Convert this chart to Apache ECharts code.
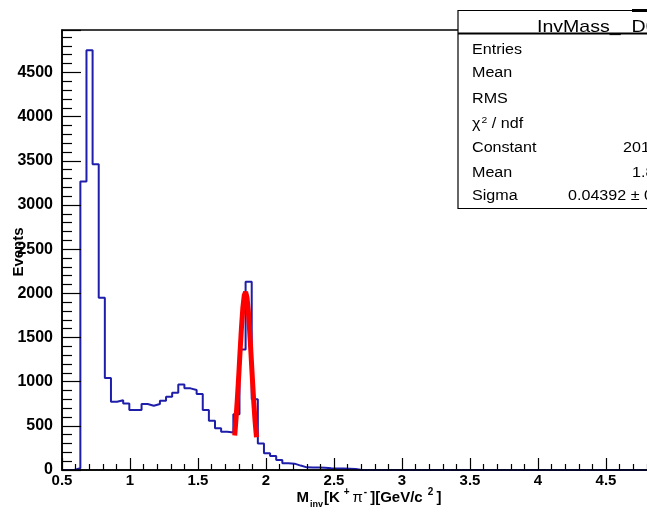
<!DOCTYPE html>
<html>
<head>
<meta charset="utf-8">
<title>InvMass_D0</title>
<script src="https://cdn.jsdelivr.net/npm/echarts@6/dist/echarts.min.js"></script>
<style>
	html, body { margin: 0; padding: 0; background: #fff; overflow: hidden; }
	#main { width: 647px; height: 517px; }
</style>
</head>
<body>
<div id="main"></div>
<script>
(function() {
	// histogram binning: 100 bins from 0.5 to 5.0
	var binLow = 0.5;
	var binWidth = 0.045;
	var binCounts = [
		0, 0, 20, 3265, 4750, 3460, 1950, 1040, 773, 790,
		754, 679, 679, 747, 727, 747, 784, 829, 875, 969,
		924, 905, 860, 679, 558, 472, 433, 425, 630, 1365,
		2130, 800, 301, 189, 158, 113, 75, 72, 50, 30,
		28, 28, 25, 20, 18, 16, 14, 12, 0, 0,
		0, 0, 0, 0, 0, 0, 0, 0, 0, 0,
		0, 0, 0, 0, 0, 0, 0, 0, 0, 0,
		0, 0, 0, 0, 0, 0, 0, 0, 0, 0,
		0, 0, 0, 0, 0, 0, 0, 0, 0, 0,
		0, 0, 0, 0, 0, 0, 0, 0, 0, 0
	];

	// gaussian fit curve
	var fitX = [1.77, 1.78, 1.79, 1.80, 1.81, 1.82, 1.83, 1.84, 1.85, 1.86, 1.87, 1.88, 1.89, 1.90, 1.91, 1.92, 1.93];
	var fitY = [390, 590, 820, 1080, 1360, 1620, 1840, 1975, 2015, 1955, 1800, 1570, 1305, 1030, 770, 545, 370];

	// axes
	var xMin = 0.5, xMax = 5, xStep = 0.5;
	var yMin = 0, yMax = 4980, yStep = 500;

	// stats box
	var statTitle = 'InvMass_  D0';
	var statNames = ['Entries', 'Mean', 'RMS', '{n|χ}{s|2}{n| / ndf}', 'Constant', 'Mean', 'Sigma'];
	var statValues = ['', '', '', '', '2017 ± 24.6', '1.849 ± 0.001', '0.04392 ± 0.00106'];
	var statRowY = [50, 73, 99, 124, 148, 173, 196];
	var statValueX = [0, 0, 0, 0, 623, 632, 568];

	var font = 'Liberation Sans, Arial, Helvetica, sans-serif';
	var stretch = 1.15; // the pave text looks a bit wide in the picture

	// histogram outline: left edge of each bin + closing right edge
	var histData = [];
	for (var i = 0; i < binCounts.length; i++) {
		histData.push([binLow + i * binWidth, binCounts[i]]);
	}
	histData.push([binLow + binCounts.length * binWidth, binCounts[binCounts.length - 1]]);

	var fitData = fitX.map(function(x, i) { return [x, fitY[i]]; });

	var graphics = [];
	// stats pave
	graphics.push({ type: 'rect', z: 100, shape: { x: 458, y: 10.5, width: 300, height: 198 },
		style: { fill: '#fff', stroke: '#000', lineWidth: 1.2 } });
	graphics.push({ type: 'line', z: 101, shape: { x1: 458, y1: 33.5, x2: 760, y2: 33.5 },
		style: { stroke: '#000', lineWidth: 2 } });
	graphics.push({ type: 'rect', z: 101, shape: { x: 632, y: 9, width: 100, height: 3 },
		style: { fill: '#000' } });
	graphics.push({ type: 'text', z: 100, x: 537, y: 27, scaleX: stretch,
		style: { text: statTitle, font: '17px ' + font, fill: '#000', verticalAlign: 'middle' } });
	statNames.forEach(function(name, i) {
		graphics.push({ type: 'text', z: 102, x: 472, y: statRowY[i], scaleX: stretch,
			style: {
				text: name, font: '14px ' + font, fill: '#000', verticalAlign: 'middle',
				rich: {
					n: { fontSize: 14, fontFamily: font, fill: '#000' },
					s: { fontSize: 9, fontFamily: font, fill: '#000', verticalAlign: 'top', padding: [0, 0, 7, 1] }
				}
			} });
		if (statValues[i]) {
			graphics.push({ type: 'text', z: 102, x: statValueX[i], y: statRowY[i], scaleX: stretch,
				style: { text: statValues[i], font: '14px ' + font, fill: '#000', verticalAlign: 'middle' } });
		}
	});
	// axis titles
	graphics.push({ type: 'text', z: 50, x: 19, y: 252, rotation: Math.PI / 2,
		style: { text: 'Events', font: 'bold 15px ' + font, fill: '#000', align: 'center', verticalAlign: 'middle' } });
	graphics.push({ type: 'text', z: 50, x: 369, y: 498,
		style: {
			text: '{b|M}{sub|inv}{b|[K}{sup| +}{pi|π}{sup|-}{b|][GeV/c }{sup|2}{b|]}',
			align: 'center', verticalAlign: 'middle',
			rich: {
				b: { fontSize: 15, fontWeight: 'bold', fontFamily: font, fill: '#000', lineHeight: 22 },
				pi: { fontSize: 15, fontFamily: font, fill: '#000', lineHeight: 22 },
				sub: { fontSize: 9, fontWeight: 'bold', fontFamily: font, fill: '#000', verticalAlign: 'bottom', lineHeight: 22, padding: [0, 1, 0, 1] },
				sup: { fontSize: 10, fontWeight: 'bold', fontFamily: font, fill: '#000', verticalAlign: 'top', lineHeight: 22, padding: [0, 3, 0, 1] }
			}
		} });

	var myChart = echarts.init(document.getElementById('main'), null, { renderer: 'canvas' });

	var option = {
		animation: false,
		backgroundColor: '#fff',
		grid: {
			left: 62, top: 30, right: -27, bottom: 47,
			show: true, borderColor: '#000', borderWidth: 1.5,
			containLabel: false, outerBoundsMode: 'none'
		},
		xAxis: {
			type: 'value', min: xMin, max: xMax, interval: xStep, z: 5,
			axisLine: { show: true, onZero: false, lineStyle: { color: '#000', width: 1.5 } },
			axisTick: { show: true, inside: true, length: 12, lineStyle: { color: '#000', width: 1.2 } },
			minorTick: { show: true, splitNumber: 5, length: 6, lineStyle: { color: '#000', width: 1.2 } },
			axisLabel: { color: '#000', fontSize: 15, fontWeight: 'bold', fontFamily: font, margin: 3, showMaxLabel: false,
				formatter: function(v) { return String(v); } },
			splitLine: { show: false }
		},
		yAxis: {
			type: 'value', min: yMin, max: yMax, interval: yStep, z: 5,
			axisLine: { show: true, lineStyle: { color: '#000', width: 1.5 } },
			axisTick: { show: true, inside: true, length: 19, lineStyle: { color: '#000', width: 1.2 } },
			minorTick: { show: true, splitNumber: 5, length: 10, lineStyle: { color: '#000', width: 1.2 } },
			axisLabel: { color: '#000', fontSize: 16, fontWeight: 'bold', fontFamily: font, margin: 9, showMaxLabel: false,
				formatter: function(v) { return String(v); } },
			splitLine: { show: false }
		},
		series: [{
			name: 'InvMass_D0',
			type: 'line',
			step: 'end',
			data: histData,
			symbol: 'none',
			lineStyle: { color: '#1e1eaa', width: 2 },
			z: 2
		}, {
			name: 'gaus',
			type: 'line',
			data: fitData,
			symbol: 'none',
			lineStyle: { color: '#ff0000', width: 5 },
			z: 3
		}],
		graphic: graphics
	};

	myChart.setOption(option);
}());
</script>
</body>
</html>
